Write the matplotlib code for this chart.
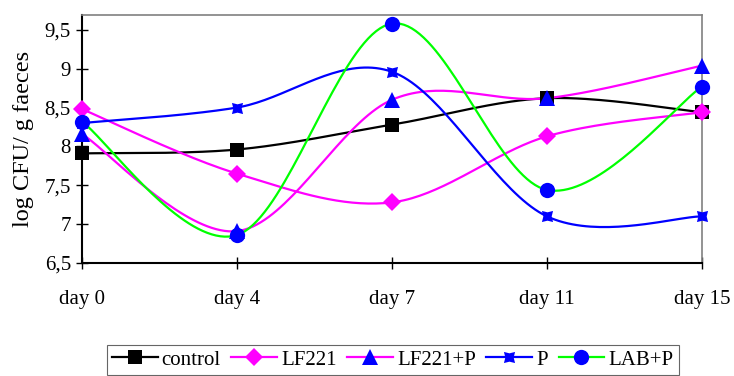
import numpy as np
import matplotlib.pyplot as plt
from matplotlib.lines import Line2D

plt.rcParams['font.family'] = ['Liberation Serif', 'DejaVu Serif']

# data
days = ['day 0', 'day 4', 'day 7', 'day 11', 'day 15']
control = [7.91, 7.96, 8.28, 8.62, 8.44]
lf221 = [8.48, 7.65, 7.28, 8.13, 8.44]
lf221_p = [8.16, 6.91, 8.60, 8.62, 9.04]
p_only = [8.30, 8.50, 8.96, 7.10, 7.10]
lab_p = [8.32, 6.86, 9.58, 7.44, 8.77]


def smooth(y, n=40):
    # Excel-like smoothed line: cubic bezier with catmull-rom control points
    x = np.arange(len(y), dtype=float)
    y = np.asarray(y, dtype=float)
    pts = np.column_stack([x, y])
    out = []
    for i in range(len(pts) - 1):
        p0 = pts[i - 1] if i > 0 else pts[i]
        p1 = pts[i]
        p2 = pts[i + 1]
        p3 = pts[i + 2] if i + 2 < len(pts) else pts[i + 1]
        c1 = p1 + (p2 - p0) / 6
        c2 = p2 - (p3 - p1) / 6
        t = np.linspace(0, 1, n)[:, None]
        seg = (1 - t) ** 3 * p1 + 3 * (1 - t) ** 2 * t * c1 + 3 * (1 - t) * t ** 2 * c2 + t ** 3 * p2
        out.append(seg if i == 0 else seg[1:])
    out = np.vstack(out)
    return out[:, 0], out[:, 1]


# notched square, like the small blue marker of series P
star = [(-1, -1), (0, -0.75), (1, -1), (0.75, 0), (1, 1), (0, 0.75), (-1, 1), (-0.75, 0), (-1, -1)]

series = [
    ('control', control, 'black', 's', 'black', 10),
    ('LF221', lf221, '#ff00ff', 'D', '#ff00ff', 9),
    ('LF221+P', lf221_p, '#ff00ff', '^', '#0000ff', 11),
    ('P', p_only, '#0000ff', star, '#0000ff', 8),
    ('LAB+P', lab_p, '#00ff00', 'o', '#0000ff', 11),
]

fig = plt.figure(figsize=(7.34, 3.76), dpi=100)
ax = fig.add_axes([0.1117, 0.3005, 0.8447, 0.6595])

handles = []
for name, vals, lc, mk, mc, ms in series:
    sx, sy = smooth(vals)
    ax.plot(sx, sy, color=lc, lw=1.6, clip_on=False, zorder=2)
    ax.plot(range(len(vals)), vals, ls='none', marker=mk, color=mc, markersize=ms,
            markeredgewidth=0, clip_on=False, zorder=3)
    handles.append(Line2D([], [], color=lc, lw=1.6, marker=mk, markerfacecolor=mc,
                          markeredgewidth=0, markersize=ms))

ax.set_xlim(0, 4)
ax.set_ylim(6.5, 9.69)
ax.set_xticks(range(len(days)))
ax.set_xticklabels(days)
ax.set_yticks([6.5, 7, 7.5, 8, 8.5, 9, 9.5])
ax.set_yticklabels(['6,5', '7', '7,5', '8', '8,5', '9', '9,5'])
ax.tick_params(axis='both', labelsize=15, direction='inout', length=9, width=1)
ax.tick_params(axis='x', pad=15)
ax.set_ylabel('log CFU/ g faeces', fontsize=17.5)
ax.yaxis.set_label_coords(-0.077, 0.5)

ax.spines['left'].set_linewidth(1.5)
ax.spines['bottom'].set_linewidth(1.5)
for s in ['top', 'right']:
    ax.spines[s].set_color('#808080')
    ax.spines[s].set_linewidth(1.2)

leg = fig.legend(handles, [s[0] for s in series], loc='upper center',
                 bbox_to_anchor=(0.535, 0.083), ncol=5, fontsize=15, frameon=True,
                 fancybox=False, edgecolor='#404040', handlelength=2.2,
                 handletextpad=0.2, columnspacing=0.5, borderpad=0.25, borderaxespad=0)
leg.get_frame().set_linewidth(0.8)

fig.savefig('out.png', dpi=100)
